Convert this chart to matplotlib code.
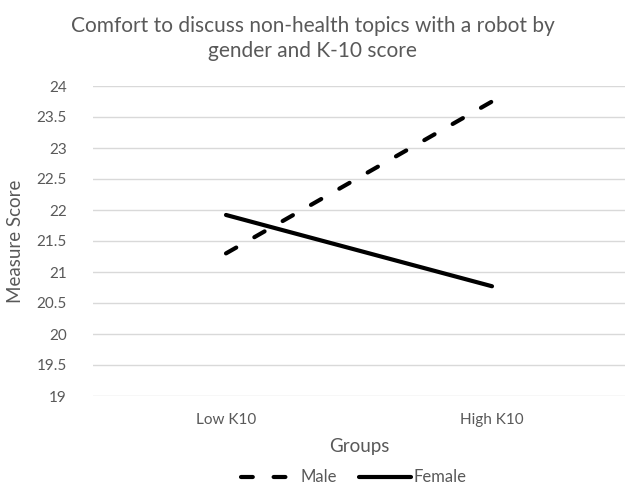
import matplotlib
matplotlib.use("Agg")
import matplotlib.pyplot as plt
from matplotlib.lines import Line2D

plt.rcParams['font.family'] = ['Lato', 'DejaVu Sans']

groups = ["Low K10", "High K10"]
male = [21.3, 23.75]
female = [21.92, 20.77]
yticks = [19, 19.5, 20, 20.5, 21, 21.5, 22, 22.5, 23, 23.5, 24]
ytick_labels = ["19", "19.5", "20", "20.5", "21", "21.5", "22", "22.5", "23", "23.5", "24"]

text_color = "#595959"
grid_color = "#d9d9d9"
W, H = 625, 488
DASH = (2.83, 5.0)

fig = plt.figure(figsize=(W / 100, H / 100), dpi=100)
ax = fig.add_axes([93 / W, 1 - 396 / H, 1 - 93 / W, (396 - 86) / H])

x = list(range(len(groups)))
ax.plot(x, male, color="black", lw=3, dash_capstyle="round", dashes=DASH, label="Male")
ax.plot(x, female, color="black", lw=3, solid_capstyle="round", label="Female")

ax.set_xlim(-0.5, 1.5)
ax.set_ylim(19, 24)
ax.set_yticks(yticks)
ax.set_yticklabels(ytick_labels)
ax.set_xticks(x)
ax.set_xticklabels(groups)
ax.yaxis.grid(True, color=grid_color, lw=1)
ax.set_axisbelow(True)
for s in ax.spines.values():
    s.set_visible(False)
ax.tick_params(axis="both", length=0, labelsize=11, colors=text_color)
ax.tick_params(axis="y", pad=19)
ax.tick_params(axis="x", pad=12)

ax.set_xlabel("Groups", fontsize=13.5, color=text_color, labelpad=8)
ax.set_ylabel("Measure Score", fontsize=13.5, color=text_color, labelpad=9)

fig.text(0.5, 1 - 16 / H, "Comfort to discuss non-health topics with a robot by\ngender and K-10 score",
         ha="center", va="top", fontsize=15, color=text_color, linespacing=1.3,
         multialignment="center")

# legend keys drawn in figure pixel coordinates
ly = 1 - 477 / H
fig.add_artist(Line2D([241 / W, 286 / W], [ly, ly], transform=fig.transFigure,
                      color="black", lw=3, dashes=DASH, dash_capstyle="round"))
fig.text(300 / W, ly, "Male", ha="left", va="center", fontsize=12, color=text_color)
fig.add_artist(Line2D([359 / W, 411 / W], [ly, ly], transform=fig.transFigure,
                      color="black", lw=3, solid_capstyle="round"))
fig.text(413 / W, ly, "Female", ha="left", va="center", fontsize=12, color=text_color)

fig.savefig("out.png", dpi=100)
